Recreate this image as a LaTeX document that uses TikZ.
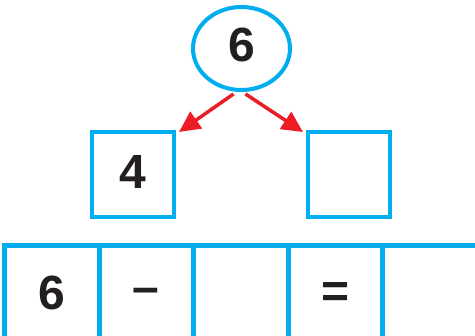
\documentclass[tikz,border=0pt]{standalone}
\usepackage{fontspec}
\setmainfont{Liberation Sans}
\usetikzlibrary{arrows.meta,shapes.geometric}
\definecolor{cblue}{HTML}{00AEEF}
\definecolor{cred}{HTML}{ED1C24}
\definecolor{ctext}{HTML}{231F20}
\begin{document}
\begin{tikzpicture}[x=1pt,y=-1pt,
  numtxt/.style={font=\fontsize{48}{48}\selectfont\bfseries, text=ctext},
  oval/.style={ellipse, draw=cblue, line width=4pt, minimum width=97pt, minimum height=83pt, inner sep=0pt},
  sqbox/.style={draw=cblue, line width=4pt, minimum width=82pt, minimum height=85pt, inner sep=0pt},
  cell/.style={draw=cblue, line width=5pt, minimum width=94.5pt, minimum height=100pt, inner sep=0pt, outer sep=0pt, anchor=north west},
  redarrow/.style={draw=cred, line width=3.5pt, -{Triangle[length=21pt,width=20pt]}}
]
\useasboundingbox (0,0) rectangle (475,336);
\node[oval] (top) at (241.5,48.5) {};
\node[numtxt] (topnum) at ([yshift=4pt]top.center) {6};
\node[sqbox] (lbox) at (133,174.5) {};
\node[numtxt] (lnum) at ([yshift=3pt]lbox.center) {4};
\node[sqbox] (rbox) at (349,174.5) {};
\begin{scope}
\clip (0,0) rectangle (475,336);
\node[cell] (c1) at (4.5,245.5) {};
\node[cell] (c2) at (c1.north east) {};
\node[cell] (c3) at (c2.north east) {};
\node[cell] (c4) at (c3.north east) {};
\node[cell] (c5) at (c4.north east) {};
\end{scope}
\node[numtxt] (n1) at ([yshift=3pt]c1.center) {6};
\node[numtxt] (n2) at (c2.center) {–};
\node[numtxt] (n4) at (c4.center) {=};
\draw[redarrow] ([xshift=-8pt,yshift=-2pt]top.south) -- ([xshift=3pt,yshift=-2pt]lbox.north east);
\draw[redarrow] ([xshift=4pt,yshift=-2pt]top.south) -- ([xshift=-3pt,yshift=-2pt]rbox.north west);
\end{tikzpicture}
\end{document}
